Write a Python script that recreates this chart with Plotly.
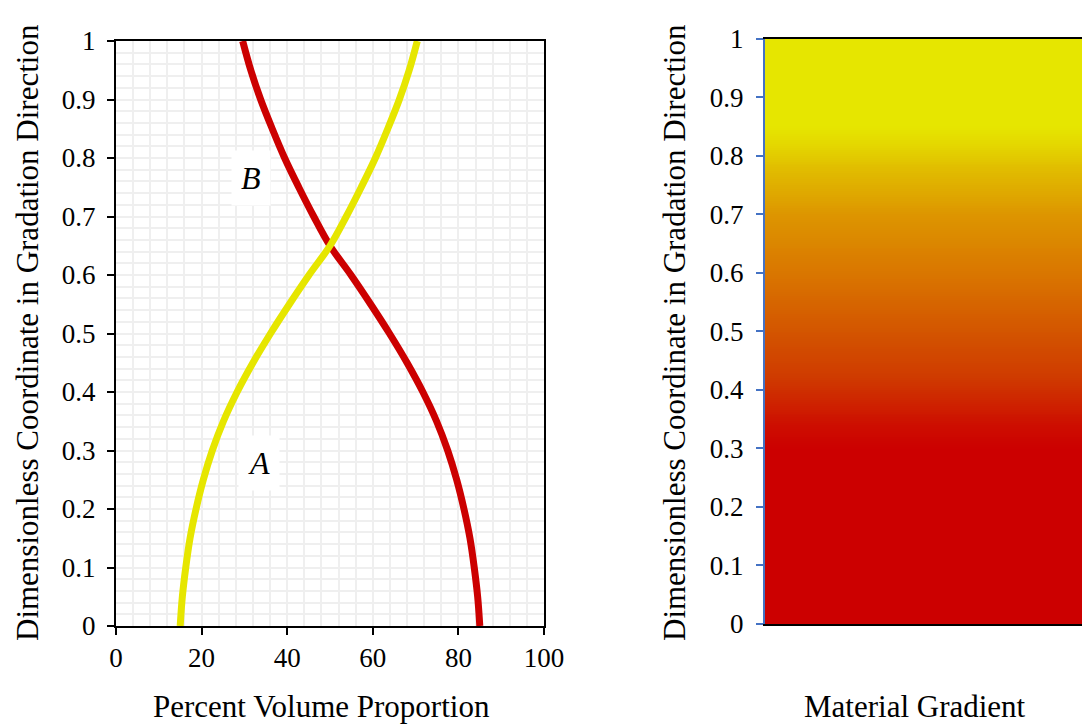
import numpy as np
import plotly.graph_objects as go

# Dimensionless coordinate along the gradation direction
coord = [0.00, 0.05, 0.10, 0.15, 0.20, 0.25, 0.30, 0.35, 0.40, 0.45, 0.50,
         0.55, 0.60, 0.65, 0.70, 0.75, 0.80, 0.85, 0.90, 0.95, 1.00]
# Percent volume proportion of phase A (yellow) and phase B (red)
phase_a = [15.0, 15.5, 16.3, 17.3, 18.7, 20.4, 22.5, 25.1, 28.3, 32.0, 36.1,
           40.5, 45.1, 50.0, 53.8, 57.3, 60.6, 63.5, 66.2, 68.5, 70.4]
phase_b = [85.0, 84.5, 83.7, 82.7, 81.3, 79.6, 77.5, 74.9, 71.7, 68.0, 63.9,
           59.5, 54.9, 50.0, 46.2, 42.7, 39.4, 36.5, 33.8, 31.5, 29.6]

x_ticks = [0, 20, 40, 60, 80, 100]
y_ticks = [0, 0.1, 0.2, 0.3, 0.4, 0.5, 0.6, 0.7, 0.8, 0.9, 1]
y_tick_text = ["0", "0.1", "0.2", "0.3", "0.4", "0.5", "0.6", "0.7", "0.8", "0.9", "1"]

# Colour stops of the material gradient bar (position, colour)
grad_pos = [0.00, 0.30, 0.34, 0.42, 0.50, 0.59, 0.70, 0.78, 0.82, 0.85, 1.00]
grad_col = ["#CC0000", "#CC0000", "#CD0E00", "#CF3A00", "#D35500", "#D97300",
            "#DD9600", "#E1BE00", "#E4D800", "#E6E600", "#E6E600"]

RED = "#CC0000"
YELLOW = "#E6E600"
FONT = "Times New Roman, Liberation Serif, serif"
W, H = 1082, 727


def px(x):
    return x / W


def py(y):
    return 1 - y / H


fig = go.Figure()

fig.add_trace(go.Scatter(x=phase_b, y=coord, mode="lines",
                         line=dict(color=RED, width=7, shape="spline"),
                         xaxis="x", yaxis="y", showlegend=False))
fig.add_trace(go.Scatter(x=phase_a, y=coord, mode="lines",
                         line=dict(color=YELLOW, width=7, shape="spline"),
                         xaxis="x", yaxis="y", showlegend=False))

# Gradient bar: a single-column heatmap coloured by the coordinate itself
edges = np.linspace(0, 1, 301)
centres = (edges[:-1] + edges[1:]) / 2
fig.add_trace(go.Heatmap(
    x=[0, 1], y=edges, z=[[c] for c in centres],
    zmin=0, zmax=1,
    colorscale=[[p, c] for p, c in zip(grad_pos, grad_col)],
    showscale=False, hoverinfo="skip",
    xaxis="x2", yaxis="y2"))

tick_font = dict(family=FONT, size=27, color="black")
title_font = dict(family=FONT, size=31, color="black")
label_font = dict(family=FONT, size=32, color="black")
grid_col = "#EFEFEF"

fig.update_layout(
    width=W, height=H,
    margin=dict(l=0, r=0, t=0, b=0, pad=0),
    paper_bgcolor="white", plot_bgcolor="white",
    showlegend=False,
    xaxis=dict(domain=[px(116), px(544)], range=[0, 100], automargin=False,
               tickvals=x_ticks, ticks="outside", ticklen=7, tickwidth=2,
               tickcolor="black", showline=True, linecolor="black",
               linewidth=2, mirror=True, showgrid=True, gridcolor=grid_col,
               gridwidth=2, zeroline=False, tickfont=tick_font,
               minor=dict(dtick=4, showgrid=True, gridcolor=grid_col,
                          gridwidth=2, ticks=""),
               anchor="y"),
    yaxis=dict(domain=[py(626), py(41)], range=[0, 1], automargin=False,
               tickvals=y_ticks, ticktext=y_tick_text, ticks="outside",
               ticklen=7, tickwidth=2, tickcolor="black", showline=True,
               linecolor="black", linewidth=2, mirror=True, showgrid=True,
               gridcolor=grid_col, gridwidth=2, zeroline=False,
               tickfont=tick_font, ticklabelstandoff=6,
               minor=dict(dtick=0.02, showgrid=True, gridcolor=grid_col,
                          gridwidth=2, ticks=""),
               anchor="x"),
    xaxis2=dict(domain=[px(765), 1.0], range=[0, 1], automargin=False,
                showticklabels=False, ticks="", showgrid=False,
                zeroline=False, showline=True, linecolor="black",
                linewidth=2, mirror=True, anchor="y2"),
    yaxis2=dict(domain=[py(624), py(38.5)], range=[0, 1], automargin=False,
                tickvals=y_ticks, ticktext=y_tick_text, ticks="outside",
                ticklen=7, tickwidth=2, tickcolor="#4472C4", showline=True,
                linecolor="#4472C4", linewidth=2, showgrid=False,
                zeroline=False, tickfont=tick_font, ticklabelstandoff=7,
                anchor="x2"),
    annotations=[
        dict(text="<i>B</i>", x=31.5, y=0.766, xref="x", yref="y",
             showarrow=False, font=label_font,
             bgcolor="white", borderpad=9),
        dict(text="<i>A</i>", x=33.3, y=0.278, xref="x", yref="y",
             showarrow=False, font=label_font,
             bgcolor="white", borderpad=9),
        dict(text="Percent Volume Proportion", x=px(321), y=py(706),
             xref="paper", yref="paper", showarrow=False, font=title_font,
             xanchor="center", yanchor="middle"),
        dict(text="Material Gradient", x=px(915), y=py(706),
             xref="paper", yref="paper", showarrow=False, font=title_font,
             xanchor="center", yanchor="middle"),
        dict(text="Dimensionless Coordinate in Gradation Direction",
             x=px(27), y=py(333), xref="paper", yref="paper",
             showarrow=False, textangle=-90, font=title_font,
             xanchor="center", yanchor="middle"),
        dict(text="Dimensionless Coordinate in Gradation Direction",
             x=px(674), y=py(333), xref="paper", yref="paper",
             showarrow=False, textangle=-90, font=title_font,
             xanchor="center", yanchor="middle"),
    ],
)

fig.write_html("out.html")
